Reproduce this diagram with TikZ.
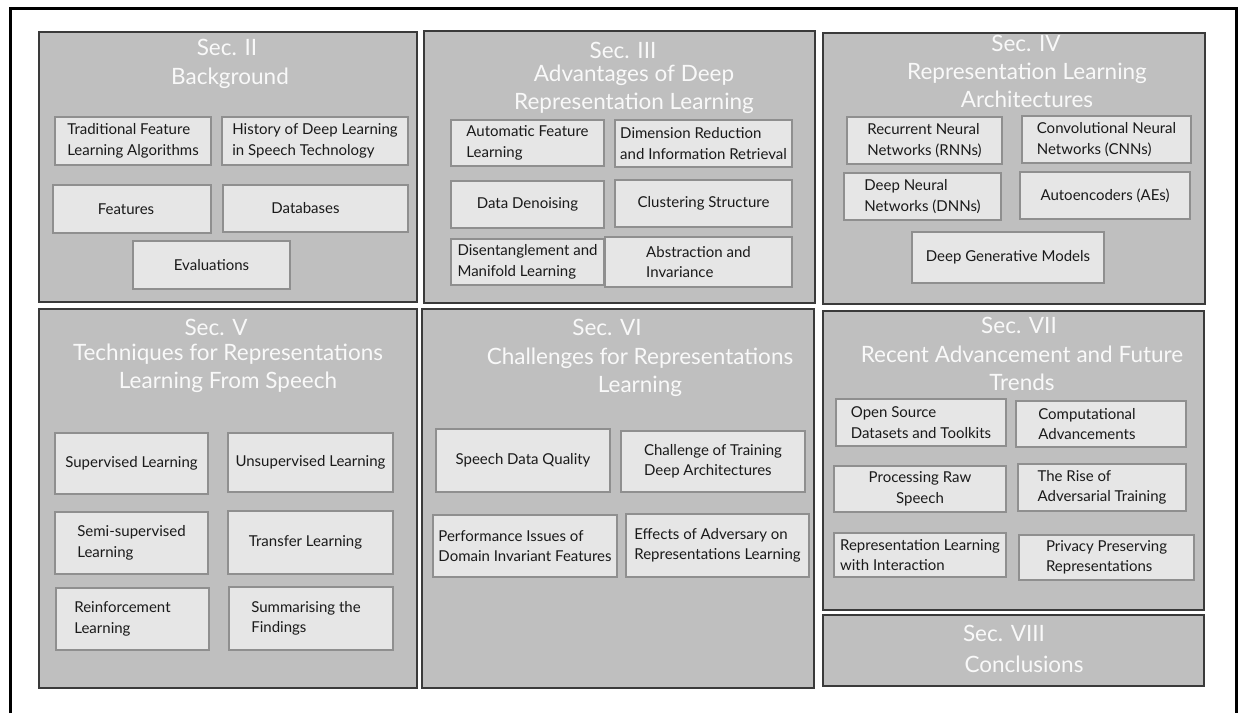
\documentclass[tikz,border=0pt]{standalone}
\usepackage{fontspec}
\setmainfont{Lato}
\definecolor{secfill}{HTML}{BFBFBF}
\definecolor{secborder}{HTML}{3A3A3A}
\definecolor{itemfill}{HTML}{E6E6E6}
\definecolor{itemborder}{HTML}{8F8F8F}
\definecolor{itemtext}{HTML}{1A1A1A}
\definecolor{titletext}{HTML}{F9F9F9}
\tikzset{
  sect/.style={draw=secborder, line width=1.5pt, fill=secfill, inner sep=0pt},
  item/.style={draw=itemborder, line width=1.2pt, fill=itemfill, inner sep=0pt,
    font=\fontsize{15}{20.5}\selectfont, text=itemtext, align=left},
  sectitle/.style={text=titletext, font=\fontsize{22.5}{28}\selectfont, align=center, inner sep=0pt},
}
\begin{document}
\begin{tikzpicture}[x=1pt,y=-1pt]
\useasboundingbox (0,0) rectangle (1238,713);
% outer frame (open at the bottom)
\draw[line width=3pt, black] (10.5,713) -- (10.5,8.5) -- (1236,8.5) -- (1236,713);

% sections
\node[sect, minimum width=378pt, minimum height=270pt] (s2) at (228,167) {};
\node[sect, minimum width=391pt, minimum height=272pt] (s3) at (619.5,167) {};
\node[sect, minimum width=382pt, minimum height=271pt] (s4) at (1014,168.5) {};
\node[sect, minimum width=378pt, minimum height=379pt] (s5) at (228,498.5) {};
\node[sect, minimum width=392pt, minimum height=379pt] (s6) at (618,498.5) {};
\node[sect, minimum width=381pt, minimum height=299pt] (s7) at (1013.5,460.5) {};
\node[sect, minimum width=381pt, minimum height=71pt] (s8) at (1013.5,650.5) {};

% titles
\node[sectitle] (h2) at (227,47) {Sec. II};
\node[sectitle] (t2) at (230,78) {Background};
\node[sectitle] (h3) at (623,50) {Sec. III};
\node[sectitle] (t3) at (634,89) {Advantages of Deep\\Representation Learning};
\node[sectitle] (h4) at (1026,43) {Sec. IV};
\node[sectitle] (t4) at (1027,85) {Representation Learning\\Architectures};
\node[sectitle] (h5) at (216,327) {Sec. V};
\node[sectitle] (t5) at (228,368) {Techniques for Representations\\Learning From Speech};
\node[sectitle] (h6) at (607,327) {Sec. VI};
\node[sectitle] (t6) at (640,372) {Challenges for Representations\\Learning};
\node[sectitle] (h7) at (1019,325) {Sec. VII};
\node[sectitle] (t7) at (1022,368.5) {Recent Advancement and Future\\Trends};
\node[sectitle] (h8) at (1004,633) {Sec. VIII};
\node[sectitle] (t8) at (1024,664) {Conclusions};

% Sec II items
\node[item, minimum width=156pt, minimum height=48pt] (b21) at (133,141) {Traditional Feature\\Learning Algorithms};
\node[item, minimum width=186pt, minimum height=48pt] (b22) at (315,141) {History of Deep Learning\\in Speech Technology};
\node[item, minimum width=158pt, minimum height=48pt] (b23) at (132,209) {Features\hspace*{12pt}};
\node[item, minimum width=185pt, minimum height=47pt] (b24) at (315.5,208.5) {Databases\hspace*{20pt}};
\node[item, minimum width=157pt, minimum height=48pt] (b25) at (211.5,265) {Evaluations};

% Sec III items
\node[item, minimum width=153pt, minimum height=46pt] (b31) at (527.5,143) {Automatic Feature\\Learning};
\node[item, minimum width=177pt, minimum height=47pt] (b32) at (703.5,143.5) {Dimension Reduction\\and Information Retrieval};
\node[item, minimum width=153pt, minimum height=47pt] (b33) at (527.5,204.5) {Data Denoising};
\node[item, minimum width=177pt, minimum height=47pt] (b34) at (703.5,203.5) {Clustering Structure};
\node[item, minimum width=153pt, minimum height=46pt] (b35) at (527.5,262) {Disentanglement and\\Manifold Learning};
\node[item, minimum width=187pt, minimum height=50pt] (b36) at (698.5,262) {Abstraction and\\Invariance};

% Sec IV items
\node[item, minimum width=155pt, minimum height=47pt] (b41) at (924.5,140.5) {Recurrent Neural\\Networks (RNNs)};
\node[item, minimum width=169pt, minimum height=47pt] (b42) at (1106.5,139.5) {Convolutional Neural\\Networks (CNNs)};
\node[item, minimum width=157pt, minimum height=47pt] (b43) at (922.5,196.5) {Deep Neural\\Networks (DNNs)};
\node[item, minimum width=170pt, minimum height=47pt] (b44) at (1105,195.5) {Autoencoders (AEs)};
\node[item, minimum width=192pt, minimum height=51pt] (b45) at (1008,257.5) {Deep Generative Models};

% Sec V items
\node[item, minimum width=153pt, minimum height=61pt] (b51) at (131.5,463.5) {Supervised Learning};
\node[item, minimum width=165pt, minimum height=59pt] (b52) at (310.5,462.5) {Unsupervised Learning};
\node[item, minimum width=153pt, minimum height=62pt] (b53) at (131.5,543) {Semi-supervised\\Learning};
\node[item, minimum width=165pt, minimum height=63pt] (b54) at (310.5,542.5) {Transfer Learning\hspace*{10pt}};
\node[item, minimum width=153pt, minimum height=62pt] (b55) at (132.5,619) {Reinforcement\hspace*{20pt}\\Learning};
\node[item, minimum width=164pt, minimum height=63pt] (b56) at (311,618.5) {Summarising the\hspace*{10pt}\\Findings};

% Sec VI items
\node[item, minimum width=174pt, minimum height=63pt] (b61) at (523,460.5) {Speech Data Quality};
\node[item, minimum width=184pt, minimum height=61pt] (b62) at (713,461.5) {Challenge of Training\\Deep Architectures};
\node[item, minimum width=184pt, minimum height=62pt] (b63) at (525,546) {Performance Issues of\\Domain Invariant Features};
\node[item, minimum width=183pt, minimum height=63pt] (b64) at (717.5,545.5) {Effects of Adversary on\\Representations Learning};

% Sec VII items
\node[item, minimum width=170pt, minimum height=47pt] (b71) at (921,422.5) {Open Source\\Datasets and Toolkits};
\node[item, minimum width=170pt, minimum height=46pt] (b72) at (1101,424) {Computational\hspace*{28pt}\\Advancements};
\node[item, minimum width=172pt, minimum height=46pt, align=center] (b73) at (920,489) {Processing Raw\\Speech};
\node[item, minimum width=168pt, minimum height=47pt] (b74) at (1102,487.5) {The Rise of\\Adversarial Training};
\node[item, minimum width=172pt, minimum height=44pt] (b75) at (920,555) {Representation Learning\\with Interaction};
\node[item, minimum width=175pt, minimum height=45pt] (b76) at (1106.5,557.5) {Privacy Preserving\\Representations};
\end{tikzpicture}
\end{document}
